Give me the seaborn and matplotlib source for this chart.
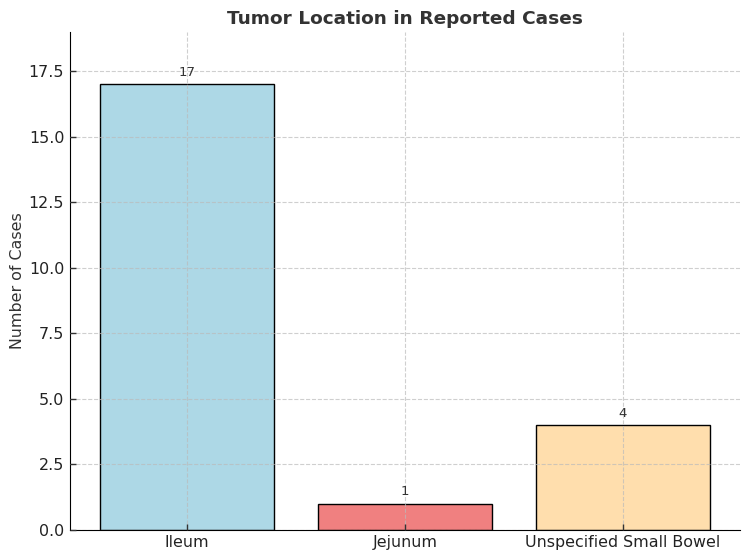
import matplotlib
matplotlib.use("Agg")
import matplotlib.pyplot as plt
import seaborn as sns
import pandas as pd

locations = ["Ileum", "Jejunum", "Unspecified Small Bowel"]
cases = [17, 1, 4]
colors = ["#ADD8E6", "#F08080", "#FFDEAD"]

df = pd.DataFrame({"Location": locations, "Cases": cases})

sns.set_style("white")
plt.rcParams["font.family"] = ["DejaVu Sans"]

fig, ax = plt.subplots(figsize=(7.5, 5.6), dpi=100)
sns.barplot(data=df, x="Location", y="Cases", hue="Location", palette=colors,
            saturation=1, edgecolor="black", linewidth=1.0, width=0.8,
            legend=False, ax=ax)

# value labels above bars
for i, v in enumerate(cases):
    ax.text(i, v + 0.2, str(v), ha="center", va="bottom", fontsize=9.5, color="#333333")

ax.set_xlim(-0.54, len(locations) - 0.46)
ax.set_ylim(0, 19)
ax.set_title("Tumor Location in Reported Cases", fontsize=13.3, fontweight="bold",
             color="#333333", pad=6)
ax.set_xlabel("")
ax.set_ylabel("Number of Cases", fontsize=11.4, color="#333333", labelpad=3)
ax.tick_params(axis="both", labelsize=11.4, colors="#333333", length=4, width=1,
               direction="in", pad=4, left=True, bottom=True)
ax.tick_params(axis="both", colors="#333333", labelcolor="#222222")
ax.grid(True, linestyle="--", alpha=0.7, color="#bbbbbb")
ax.set_axisbelow(False)
sns.despine(ax=ax)
for s in ["left", "bottom"]:
    ax.spines[s].set_color("black")

fig.subplots_adjust(left=0.093, right=0.987, top=0.943, bottom=0.054)
plt.savefig("out.png", dpi=100)
